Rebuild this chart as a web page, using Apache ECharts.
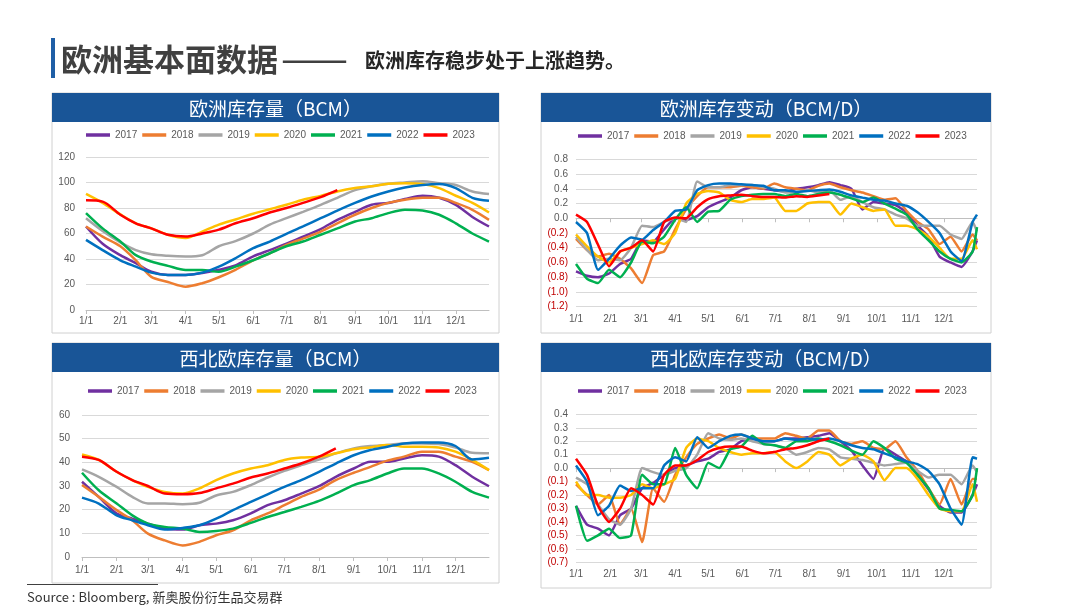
<!DOCTYPE html>
<html><head><meta charset="utf-8">
<script src="https://cdn.jsdelivr.net/npm/echarts/dist/echarts.min.js"></script>
<style>html,body{margin:0;padding:0;background:#fff}#c{width:1080px;height:608px}</style>
</head><body><div id="c"></div>
<script>
// ---------- data ----------
const years = ['2017','2018','2019','2020','2021','2022','2023'];
const colors = ['#7030a0','#ed7d31','#a5a5a5','#ffc000','#00b050','#0070c0','#ff0000'];
const monthDays = [31,28,31,30,31,30,31,31,30,31,30,31];

// inventory sample dates
const invDates = ['1/1','1/16','2/1','2/15','3/1','3/16','4/1','4/16','5/1','5/16','6/1','6/16','7/1','7/16','8/1','8/16','9/1','9/16','10/1','10/16','11/1','11/16','12/1','12/16','12/31'];
// change sample day-of-year offsets
const chgDays = [0,10,20,30,40,50,60,70,80,90,100,110,120,130,140,150,160,170,180,190,200,210,220,230,240,250,260,270,280,290,300,310,320,330,340,350,360,364];

// 欧洲库存量 (BCM)
const eu2017 = [65.5,52,43,36.7,30,27.5,27.5,29,31.5,35,42,47,52,57.5,63.5,70.7,77,82.5,84,87,89.6,88,82.5,73,65.5];
const eu2018 = [65.5,57.6,50,39,26,22,18.3,21,25.7,31.5,39,44.5,51,56,61.5,68,74.7,80,84,86.5,88,88,84,78.6,70.7];
const eu2019 = [72,62,53,47,43.7,42.5,42,43,50,54,60,67,72,77,82.5,88,94,97,99,100,101,99.5,98,93,91];
const eu2020 = [91,84,75,68,64,59,56.5,61.5,67,71,75.5,79,82.5,86.5,89.5,93,95.6,97,99,99.5,98.8,95.6,89.6,84,76.5];
const eu2021 = [76,64,53.7,43,38,34.6,31.4,31.4,30,34,39,44.5,50,53.7,59,64,69.4,72,76,78.6,78,74.7,68,60,53.7];
const eu2022 = [55,47,39,34,29.3,27.5,27.5,29.3,34,40.6,48.5,53.7,59.7,65.5,72,78,84,89,93,96,98,98.8,95.6,88,85.7];
const eu2023 = [86,85,74.7,68,64,59,57.6,60,63,68,72,76.5,80,84,88.5,94];

// 欧洲库存变动 (BCM/D)
const euc2017 = [-0.72,-0.78,-0.8,-0.75,-0.62,-0.55,-0.3,-0.32,-0.15,0.0,-0.02,0.03,0.15,0.22,0.28,0.38,0.42,0.4,0.38,0.36,0.4,0.42,0.45,0.49,0.45,0.4,0.12,0.22,0.2,0.18,0.08,-0.1,-0.25,-0.52,-0.6,-0.66,-0.45,-0.3];
const euc2018 = [-0.28,-0.43,-0.52,-0.48,-0.55,-0.68,-0.88,-0.5,-0.45,-0.15,0.12,0.3,0.42,0.42,0.42,0.44,0.42,0.4,0.47,0.42,0.4,0.38,0.44,0.47,0.42,0.38,0.35,0.3,0.25,0.27,0.1,-0.05,-0.15,-0.35,-0.25,-0.45,-0.22,-0.3];
const euc2019 = [-0.25,-0.43,-0.57,-0.55,-0.57,-0.4,-0.1,-0.12,-0.05,0.0,-0.05,0.5,0.42,0.42,0.45,0.45,0.45,0.42,0.4,0.35,0.35,0.38,0.35,0.38,0.25,0.3,0.22,0.15,0.12,0.05,0.0,-0.1,-0.1,-0.1,-0.22,-0.28,-0.05,-0.18];
const euc2020 = [-0.22,-0.38,-0.52,-0.6,-0.45,-0.4,-0.35,-0.3,-0.35,-0.2,0.2,0.33,0.37,0.35,0.25,0.22,0.26,0.26,0.28,0.1,0.1,0.2,0.22,0.22,0.05,0.2,0.15,0.1,0.12,-0.1,-0.1,-0.15,-0.25,-0.4,-0.55,-0.55,-0.3,-0.42];
const euc2021 = [-0.62,-0.82,-0.88,-0.7,-0.8,-0.6,-0.32,-0.34,-0.25,-0.02,0.15,-0.05,0.09,0.1,0.25,0.3,0.32,0.33,0.33,0.3,0.33,0.3,0.33,0.35,0.32,0.27,0.22,0.28,0.2,0.13,0.05,-0.15,-0.3,-0.45,-0.55,-0.6,-0.45,-0.12];
const euc2022 = [-0.05,-0.2,-0.7,-0.55,-0.37,-0.26,-0.29,-0.16,-0.05,0.1,0.12,0.38,0.45,0.47,0.47,0.46,0.45,0.44,0.38,0.38,0.36,0.37,0.38,0.39,0.36,0.31,0.28,0.25,0.24,0.2,0.17,0.08,-0.05,-0.2,-0.45,-0.58,-0.05,0.05];
const euc2023 = [0.05,-0.05,-0.36,-0.65,-0.45,-0.4,-0.3,-0.45,-0.05,0.01,0.0,0.15,0.26,0.3,0.31,0.32,0.3,0.29,0.29,0.28,0.3,0.29,0.31,0.33];

// 西北欧库存量 (BCM)
const nw2017 = [31.8,25.4,18.4,16.2,14.1,12,11.6,13.4,14.1,15.5,18.4,21.9,24,26.8,29.9,33.9,37.4,40.2,40.2,41.6,43,42.4,38.8,33.9,29.9];
const nw2018 = [30.4,25.4,19.8,15.5,9.9,7,4.9,6.4,9.2,11.3,15.5,18.4,21.9,25.4,28.5,32.5,35.6,38.1,40.7,42.4,44.5,44.5,42.4,40.2,36.7];
const nw2019 = [37,33.9,29.6,25.4,22.6,22.6,22.3,22.9,26,27.5,30.4,33.6,36.4,38.8,41.2,43.8,45.9,46.9,47.3,48,48,47.7,46.3,44,43.8];
const nw2020 = [43.3,41,36,32.5,29.6,27.5,26.8,29,32.5,35.3,37.4,38.8,41,42,42.4,43.8,45.5,46.3,47.3,46.6,46.6,46.3,44.5,41,36.7];
const nw2021 = [35.6,28.2,22.6,17.6,14.1,12.7,12,10.6,11,12,14.4,16.9,19,21.2,23.7,26.8,30.4,32.5,35.3,37.4,37.4,35.3,31.8,27.5,25.1];
const nw2022 = [25.1,22.6,17.6,15.5,13.4,11.6,12.3,13.4,16.2,19.8,23.3,26.5,29.6,32.5,36,39.5,43,45.2,46.6,48,48.4,48.4,46.9,41.2,41.9];
const nw2023 = [42.4,41,36,32.5,30,26.8,26.5,27,29,31,33.6,35.3,37.4,39.5,42.4,45.9];

// 西北欧库存变动 (BCM/D)
const nwc2017 = [-0.28,-0.42,-0.45,-0.5,-0.35,-0.3,-0.15,-0.11,-0.05,0.0,0.02,0.05,0.07,0.12,0.14,0.2,0.22,0.2,0.2,0.22,0.22,0.23,0.24,0.26,0.2,0.13,0.02,-0.08,0.15,0.1,0.05,-0.05,-0.16,-0.28,-0.33,-0.33,-0.2,-0.12];
const nwc2018 = [-0.12,-0.2,-0.27,-0.2,-0.42,-0.3,-0.55,-0.15,-0.25,-0.05,0.08,0.18,0.22,0.25,0.22,0.25,0.22,0.22,0.22,0.26,0.24,0.22,0.28,0.28,0.2,0.18,0.2,0.15,0.14,0.2,0.08,-0.02,-0.15,-0.27,-0.08,-0.27,-0.08,-0.08];
const nwc2019 = [-0.07,-0.12,-0.27,-0.38,-0.42,-0.3,0.0,-0.03,-0.05,-0.02,0.0,0.1,0.26,0.22,0.21,0.22,0.2,0.18,0.17,0.15,0.1,0.12,0.15,0.14,0.08,0.07,0.06,0.04,0.02,0.03,0.04,-0.02,-0.07,-0.05,-0.05,-0.12,0.02,-0.03];
const nwc2020 = [-0.1,-0.2,-0.2,-0.22,-0.22,-0.2,-0.12,-0.15,-0.12,-0.08,0.15,0.22,0.2,0.15,0.12,0.1,0.11,0.11,0.12,0.05,0.0,0.05,0.12,0.1,0.02,0.07,0.1,0.05,-0.09,0.0,0.0,-0.08,-0.2,-0.3,-0.32,-0.32,-0.12,-0.25];
const nwc2021 = [-0.28,-0.54,-0.5,-0.45,-0.52,-0.5,-0.05,-0.12,-0.12,0.15,-0.05,-0.15,0.04,0.0,0.14,0.16,0.24,0.18,0.17,0.15,0.2,0.2,0.22,0.2,0.17,0.13,0.1,0.2,0.15,0.07,0.04,-0.05,-0.15,-0.3,-0.31,-0.32,-0.2,0.0];
const nwc2022 = [0.02,-0.1,-0.35,-0.28,-0.13,-0.17,-0.15,-0.15,0.02,0.08,0.05,0.23,0.15,0.2,0.24,0.25,0.22,0.2,0.2,0.22,0.21,0.22,0.21,0.22,0.2,0.17,0.15,0.14,0.11,0.08,0.05,0.03,-0.02,-0.12,-0.3,-0.42,0.08,0.07];
const nwc2023 = [0.07,-0.05,-0.28,-0.4,-0.3,-0.15,-0.2,-0.27,-0.05,0.02,0.02,0.06,0.12,0.15,0.16,0.16,0.13,0.11,0.12,0.14,0.15,0.17,0.2,0.22];

const titles = ['欧洲库存量（BCM）','欧洲库存变动（BCM/D）','西北欧库存量（BCM）','西北欧库存变动（BCM/D）'];

// ---------- build ----------
const dayLabels = [];
monthDays.forEach((n, m) => { for (let d = 1; d <= n; d++) dayLabels.push((m + 1) + '/' + d); });
const invIdx = invDates.map(s => dayLabels.indexOf(s));

const panels = [
  {sets:[eu2017,eu2018,eu2019,eu2020,eu2021,eu2022,eu2023], xs: invIdx, smooth: 0.3,
   grid:{left:86, top:157, width:403, height:153}, y:{min:0,max:120,interval:20}, pct:false, labelMargin:11, xMargin:6,
   box:[52,93,447,240], legend:{left:86, top:130}},
  {sets:[euc2017,euc2018,euc2019,euc2020,euc2021,euc2022,euc2023], xs: chgDays, smooth: 0.15,
   grid:{left:576, top:159.3, width:401, height:147.4}, y:{min:-1.2,max:0.8,interval:0.2}, pct:true, labelMargin:8, xMargin:8,
   box:[541,93,450,240], legend:{left:578, top:131}},
  {sets:[nw2017,nw2018,nw2019,nw2020,nw2021,nw2022,nw2023], xs: invIdx, smooth: 0.3,
   grid:{left:82, top:415, width:407, height:142}, y:{min:0,max:60,interval:10}, pct:false, labelMargin:12, xMargin:8,
   box:[52,343,447,240], legend:{left:88, top:386}},
  {sets:[nwc2017,nwc2018,nwc2019,nwc2020,nwc2021,nwc2022,nwc2023], xs: chgDays, smooth: 0.15,
   grid:{left:576, top:414.3, width:401, height:148}, y:{min:-0.7,max:0.4,interval:0.1}, pct:true, labelMargin:8, xMargin:7,
   box:[541,343,450,245], legend:{left:578, top:386}}
];

const monthStart = (i, v) => /\/1$/.test(v);
const labelFont = 'Liberation Sans, Arial, sans-serif';

const option = {
  animation: false,
  backgroundColor: '#fff',
  grid: [], xAxis: [], yAxis: [], series: [], legend: [], graphic: []
};

panels.forEach((p, k) => {
  option.grid.push(Object.assign({containLabel:false}, p.grid));
  option.xAxis.push({
    type:'category', gridIndex:k, data: dayLabels, boundaryGap:false,
    axisLine:{lineStyle:{color:'#bfbfbf', width:1}},
    axisTick:{show:true, interval: monthStart, length:4, lineStyle:{color:'#bfbfbf'}},
    axisLabel:{interval: monthStart, color:'#595959', fontSize:10, fontFamily: labelFont, margin:p.xMargin},
    splitLine:{show:false}
  });
  option.yAxis.push({
    type:'value', gridIndex:k, min:p.y.min, max:p.y.max, interval:p.y.interval,
    axisLine:{show:false}, axisTick:{show:false},
    splitLine:{lineStyle:{color:'#d9d9d9', width:1}},
    axisLabel:{
      color: p.pct ? (v => (Number(v) < -1e-9 ? '#c00000' : '#595959')) : '#595959',
      fontSize:10, fontFamily: labelFont, margin:p.labelMargin,
      formatter: p.pct ? (v => { const r = Math.round(v*10)/10; return r < 0 ? '(' + Math.abs(r).toFixed(1) + ')' : r.toFixed(1); })
                       : (v => String(Math.round(v)))
    }
  });
  option.legend.push({
    data: years, left:p.legend.left, top:p.legend.top, orient:'horizontal', padding:0,
    icon:'rect', itemWidth:24, itemHeight:3.5, itemGap:5, selectedMode:false,
    textStyle:{color:'#595959', fontSize:10, fontFamily: labelFont}
  });
  p.sets.forEach((vals, i) => {
    option.series.push({
      type:'line', name: years[i], xAxisIndex:k, yAxisIndex:k,
      data: vals.map((v, j) => [p.xs[j], v]),
      showSymbol:false, symbol:'none', smooth:p.smooth, silent:true,
      color: colors[i], itemStyle:{color: colors[i]},
      lineStyle:{color: colors[i], width:2.5},
      emphasis:{disabled:true}
    });
  });
  const [bx, by, bw, bh] = p.box;
  option.graphic.push(
    {type:'rect', shape:{x:bx, y:by, width:bw, height:bh}, style:{fill:'none', stroke:'#d0d0d0', lineWidth:1}, z:-1, silent:true},
    {type:'rect', shape:{x:bx, y:by, width:bw, height:29}, style:{fill:'#195597'}, silent:true},
    {type:'text', x: bx + bw/2, y: by + 15.5, silent:true,
     style:{text: titles[k], fill:'#ffffff', font:'19px "Noto Sans CJK SC", sans-serif', textAlign:'center', textVerticalAlign:'middle', align:'center', verticalAlign:'middle'}}
  );
});

option.graphic.push(
  {type:'rect', shape:{x:51, y:38, width:4, height:40}, style:{fill:'#1f5fa6'}, silent:true},
  {type:'text', x:61, y:59, silent:true,
   style:{text:'欧洲基本面数据', fill:'#404040', font:'bold 31px "Noto Sans CJK SC", sans-serif', textVerticalAlign:'middle', verticalAlign:'middle'}},
  {type:'text', x:281, y:58, silent:true,
   style:{text:'——', fill:'#404040', font:'normal 40px "Noto Sans CJK SC", sans-serif', textVerticalAlign:'middle', verticalAlign:'middle'}},
  {type:'text', x:365, y:60, silent:true,
   style:{text:'欧洲库存稳步处于上涨趋势。', fill:'#262626', font:'bold 20px "Noto Sans CJK SC", sans-serif', textVerticalAlign:'middle', verticalAlign:'middle'}},
  {type:'line', shape:{x1:27, y1:584.5, x2:158, y2:584.5}, style:{stroke:'#404040', lineWidth:1}, silent:true},
  {type:'text', x:27, y:597, silent:true,
   style:{text:'Source : Bloomberg, 新奥股份衍生品交易群', fill:'#333333', font:'13px "Noto Sans CJK SC", sans-serif', textVerticalAlign:'middle', verticalAlign:'middle'}}
);

const chart = echarts.init(document.getElementById('c'), null, {renderer:'canvas'});
chart.setOption(option);
</script>
</body></html>
